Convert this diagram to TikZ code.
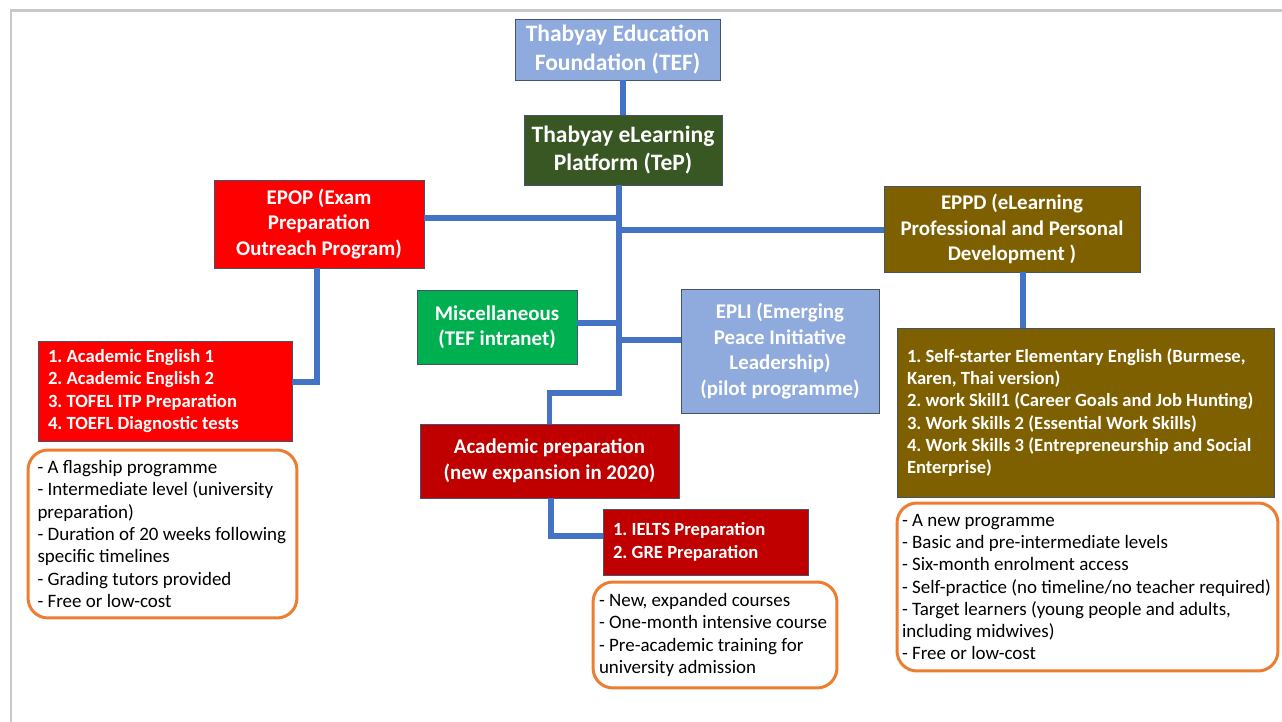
\documentclass[tikz,border=0pt]{standalone}
\usepackage{fontspec}
\setmainfont{Carlito}
\usepackage{xcolor}
\usepackage{tikz}
\usetikzlibrary{positioning,calc}

\definecolor{linkblue}{HTML}{4472C4}
\definecolor{tefblue}{HTML}{8FAADC}
\definecolor{tepgreen}{HTML}{385723}
\definecolor{epopred}{HTML}{FF0000}
\definecolor{miscgreen}{HTML}{00B050}
\definecolor{acadred}{HTML}{C00000}
\definecolor{eppdbrown}{HTML}{7F6000}
\definecolor{noteorange}{HTML}{ED7D31}
\definecolor{boxedge}{HTML}{44546A}
\definecolor{framegray}{HTML}{C8C8C8}

\newcommand\headfont{\fontsize{13.4}{16.2}\selectfont\bfseries}
\newcommand\boxfont{\fontsize{11.9}{14.5}\selectfont\bfseries}
\newcommand\listfont{\fontsize{10.6}{12.7}\selectfont\bfseries\frenchspacing}
\newcommand\notefont{\fontsize{10.8}{12.7}\selectfont\frenchspacing}
\hyphenpenalty=10000
\exhyphenpenalty=10000

\begin{document}
\begin{tikzpicture}[
    x=0.02cm, y=-0.02cm,
    unit/.style={rectangle, draw=boxedge, line width=0.5pt, text=white, align=center, font=\boxfont, inner sep=0pt},
    head/.style={unit, font=\headfont},
    list/.style={unit, align=flush left, font=\listfont, inner xsep=0.2cm, inner ysep=0pt},
    note/.style={rectangle, rounded corners=0.4cm, draw=noteorange, line width=1.7pt, align=flush left, font=\notefont, inner ysep=0pt},
    link/.style={draw=linkblue, line width=3.4pt}
]
    % page and frame
    \fill[white] (0,0) rectangle (1282,722);
    \useasboundingbox (0,0) rectangle (1282,722);
    \draw[framegray, line width=1.7pt] (11,722) -- (11,11) -- (1282,11);

    % foundation and platform
    \node[head, fill=tefblue, minimum width=4.10cm, minimum height=1.22cm] (TEF) at (617.5,49.5) {Thabyay Education\\Foundation (TEF)};
    \node[head, fill=tepgreen, minimum width=3.96cm, minimum height=1.40cm] (TeP) at (623,150) {Thabyay eLearning\\Platform (TeP)};

    % programmes
    \node[unit, fill=epopred, minimum width=4.20cm, minimum height=1.76cm] (EPOP) at (319,224) {EPOP (Exam\\Preparation\\Outreach Program)};
    \node[unit, fill=miscgreen, minimum width=3.20cm, minimum height=1.48cm] (Misc) at (497,327) {Miscellaneous\\(TEF intranet)};
    \node[unit, fill=tefblue, minimum width=3.96cm, minimum height=2.48cm] (EPLI) at (780,351) {EPLI (Emerging\\Peace Initiative\\Leadership)\\(pilot programme)};
    \node[unit, fill=acadred, minimum width=5.18cm, minimum height=1.48cm] (Academic) at (549.5,461) {Academic preparation\\(new expansion in 2020)};
    \node[unit, fill=eppdbrown, minimum width=5.12cm, minimum height=1.72cm] (EPPD) at (1012,229) {EPPD (eLearning\\Professional and Personal\\Development )};

    % course lists
    \node[list, fill=epopred, text width=4.68cm, minimum height=2.00cm] (Courses) at (165,391) {1. Academic English 1\\2. Academic English 2\\3. TOFEL ITP Preparation\\4. TOEFL Diagnostic tests};
    \node[list, fill=acadred, text width=3.70cm, minimum height=1.32cm] (Tests) at (705.5,542) {1. IELTS Preparation\\2. GRE Preparation};
    \node[list, fill=eppdbrown, text width=7.14cm, minimum height=3.38cm] (Modules) at (1085.5,412.5) {1. Self-starter Elementary English (Burmese,\\Karen, Thai version)\\2. work Skill1 (Career Goals and Job Hunting)\\3. Work Skills 2 (Essential Work Skills)\\4. Work Skills 3 (Entrepreneurship and Social\\Enterprise)};

    % notes
    \node[note, inner xsep=0.19cm, text width=5.00cm, minimum height=3.36cm] (EPOPnote) at (162.5,534) {- A flagship programme\\- Intermediate level (university\\preparation)\\- Duration of 20 weeks following\\specific timelines\\- Grading tutors provided\\- Free or low-cost};
    \node[note, inner xsep=0.12cm, text width=4.64cm, minimum height=2.12cm] (Acadnote) at (715,635) {- New, expanded courses\\- One-month intensive course\\- Pre-academic training for\\university admission};
    \node[note, inner xsep=0.10cm, text width=7.42cm, minimum height=3.36cm] (EPPDnote) at (1087.5,587) {- A new programme\\- Basic and pre-intermediate levels\\- Six-month enrolment access\\- Self-practice (no timeline/no teacher required)\\- Target learners (young people and adults,\\including midwives)\\- Free or low-cost};

    % connectors
    \coordinate (epopjoin) at (619,218);
    \coordinate (eppdjoin) at (619,230);
    \coordinate (miscjoin) at (619,323);
    \coordinate (eplijoin) at (619,340);
    \coordinate (hub) at (619,393);
    \coordinate (epopbend) at (317,382);
    \coordinate (acadbend) at (551,536);
    \coordinate (eppddrop) at (1023,300);

    \draw[link] (TeP.north |- TEF.south) -- (TeP.north);
    \draw[link] (hub |- TeP.south) -- (hub) -| (Academic.north);
    \draw[link] (epopjoin) -- (epopjoin -| EPOP.east);
    \draw[link] (eppdjoin) -- (eppdjoin -| EPPD.west);
    \draw[link] (miscjoin) -- (miscjoin -| Misc.east);
    \draw[link] (eplijoin) -- (eplijoin -| EPLI.west);
    \draw[link] (epopbend |- EPOP.south) -- (epopbend) -- (epopbend -| Courses.east);
    \draw[link] (acadbend |- Academic.south) -- (acadbend) -- (acadbend -| Tests.west);
    \draw[link] (eppddrop |- EPPD.south) -- (eppddrop |- Modules.north);
\end{tikzpicture}
\end{document}
